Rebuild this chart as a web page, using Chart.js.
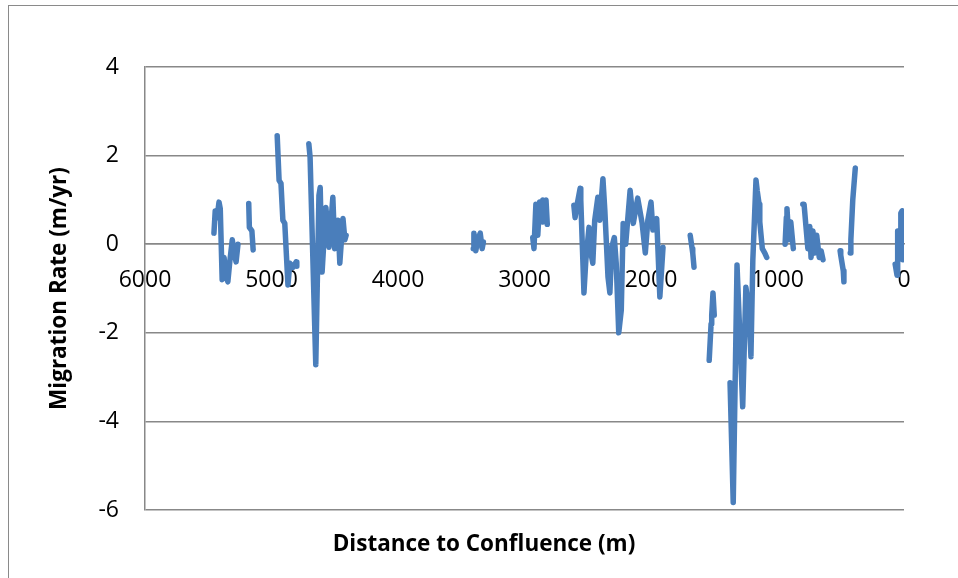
<!DOCTYPE html>
<html lang="en">
<head>
    <meta charset="UTF-8">
    <title>Migration Rate</title>
    <script src="https://cdn.jsdelivr.net/npm/chart.js@4.4.1/dist/chart.umd.min.js"></script>
    <style>
        html, body { margin: 0; padding: 0; background: #fff; overflow: hidden; }
        .frame { position: absolute; left: 8px; top: 5px; width: 1200px; height: 900px; border: 1px solid #8a8a8a; }
        .wrap { position: absolute; left: 0; top: 0; width: 958px; height: 578px; }
    </style>
</head>
<body>
    <div class="frame"></div>
    <div class="wrap"><canvas id="chart" width="958" height="578"></canvas></div>

    <script>
        // distance to confluence (m) and migration rate (m/yr); null = gap in the survey
        const distance = [
            5455, 5445, 5430, 5415, 5405, 5390, 5375, 5360, 5345, 5330, 5310, 5295, 5280, 5265, 5220,
            5180, 5175, 5155, 5145, 5050,
            4955, 4940, 4925, 4910, 4895, 4870, 4855, 4830, 4805, 4800, 4750,
            4705, 4695, 4650, 4625, 4615, 4600, 4570, 4545, 4515, 4500, 4475, 4460, 4435, 4420, 4410, 3900,
            3405, 3400, 3385, 3370, 3350, 3335, 3325, 3100,
            2935, 2925, 2910, 2895, 2880, 2860, 2855, 2840, 2830, 2820, 2700,
            2610, 2600, 2585, 2560, 2555, 2530, 2515, 2490, 2475, 2460, 2445, 2420, 2405, 2380, 2365,
            2340, 2325, 2310, 2290, 2275, 2255, 2235, 2220, 2200, 2165, 2140, 2120, 2105, 2070, 2045,
            2025, 2000, 1985, 1955, 1930, 1905, 1800,
            1690, 1675, 1670, 1660, 1600,
            1540, 1525, 1520, 1510, 1500, 1450,
            1375, 1350, 1320, 1275, 1250, 1225, 1210, 1195, 1170, 1160, 1145, 1140, 1120, 1100, 1085, 1000,
            940, 930, 925, 910, 895, 875, 840,
            800, 790, 775, 760, 745, 735, 720, 705, 690, 670, 655, 640, 570,
            505, 500, 480, 475, 450,
            425, 420, 405, 385, 200,
            70, 55, 50, 30, 25, 15, 10
        ];
        const rate = [
            0.25, 0.75, 0.6, 0.95, 0.8, -0.8, -0.3, -0.7, -0.85, -0.4, 0.1, -0.2, -0.4, 0.0, null,
            0.92, 0.38, 0.3, -0.13, null,
            2.45, 1.44, 1.37, 0.54, 0.47, -0.92, -0.43, -0.52, -0.4, -0.5, null,
            2.27, 1.96, -2.72, 1.1, 1.28, -0.63, 0.83, -0.07, 1.06, -0.1, 0.54, -0.43, 0.58, 0.1, 0.2, null,
            -0.1, 0.25, -0.15, 0.1, 0.25, -0.1, 0.05, null,
            0.15, -0.1, 0.9, 0.2, 0.95, 0.5, 1.0, 0.6, 1.0, 0.45, null,
            0.88, 0.6, 0.88, 1.26, 0.99, -1.1, -0.36, 0.38, -0.2, -0.43, 0.54, 1.06, 0.54, 1.48, 0.77,
            -0.74, -1.1, -0.07, 0.15, -0.43, -2.0, -1.49, 0.47, 0.0, 1.22, 0.47, 0.8, 1.04, 0.47, -0.2,
            0.54, 0.95, 0.32, 0.58, -1.19, -0.07, null,
            0.2, -0.1, -0.2, -0.52, null,
            -2.62, -1.8, -1.6, -1.1, -1.6, null,
            -3.13, -5.83, -0.47, -3.67, -0.97, -1.5, -2.54, -0.36, 1.45, 1.2, 0.9, 0.5, -0.1, -0.2, -0.3, null,
            0.0, 0.6, 0.8, 0.1, 0.5, -0.1, null,
            0.9, 0.9, 0.4, -0.1, 0.4, -0.3, 0.3, -0.2, 0.2, -0.3, -0.15, -0.35, null,
            -0.15, -0.25, -0.6, -0.85, null,
            -0.2, 0.1, 1.0, 1.72, null,
            -0.45, -0.7, 0.3, 0.3, 0.7, 0.75, -0.35
        ];
        const xTicks = [6000, 5000, 4000, 3000, 2000, 1000, 0];
        const yTicks = [4, 2, 0, -2, -4, -6];
        const xTitle = 'Distance to Confluence (m)';
        const yTitle = 'Migration Rate (m/yr)';

        const points = distance.map((d, i) => ({ x: d, y: rate[i] }));
        const gridGray = '#888888';
        const titleFont = { family: 'Open Sans', size: 22.5, weight: 'bold' };
        const tickFont = { family: 'Open Sans', size: 23 };

        // x title sits centred on the whole frame, not on the plot area
        const bottomTitle = {
            id: 'bottomTitle',
            afterDraw(chart) {
                const ctx = chart.ctx;
                ctx.save();
                ctx.font = 'bold 22.5px "Open Sans"';
                ctx.fillStyle = '#000';
                ctx.textAlign = 'center';
                ctx.textBaseline = 'middle';
                ctx.fillText(xTitle, 484, 545);
                ctx.restore();
            }
        };

        new Chart(document.getElementById('chart'), {
            type: 'line',
            data: {
                datasets: [{
                    label: 'Migration Rate',
                    data: points,
                    borderColor: '#4a7ebb',
                    borderWidth: 5.5,
                    borderCapStyle: 'round',
                    borderJoinStyle: 'round',
                    pointRadius: 0,
                    spanGaps: false,
                    tension: 0
                }]
            },
            options: {
                responsive: false,
                animation: false,
                layout: { padding: { left: 8, top: 67, right: 54, bottom: 68 } },
                plugins: {
                    legend: { display: false },
                    tooltip: { enabled: false }
                },
                scales: {
                    x: {
                        type: 'linear',
                        reverse: true,
                        min: 0,
                        max: 6000,
                        position: { y: 0 },
                        afterBuildTicks: s => { s.ticks = xTicks.map(v => ({ value: v })); },
                        grid: { display: false },
                        border: { display: true, color: gridGray, width: 1.5 },
                        ticks: {
                            color: '#000',
                            font: tickFont,
                            padding: 14,
                            maxRotation: 0,
                            autoSkip: false,
                            callback: v => String(v)
                        }
                    },
                    y: {
                        min: -6,
                        max: 4,
                        afterBuildTicks: s => { s.ticks = yTicks.map(v => ({ value: v })); },
                        afterFit: s => { s.width = 137; },
                        grid: { color: gridGray, lineWidth: 1.5, drawTicks: false },
                        border: { display: true, color: gridGray, width: 1.5 },
                        ticks: {
                            color: '#000',
                            font: tickFont,
                            padding: 26,
                            callback: v => String(v)
                        },
                        title: {
                            display: true,
                            text: yTitle,
                            color: '#000',
                            font: titleFont,
                            padding: { top: 38, bottom: 0 }
                        }
                    }
                }
            },
            plugins: [bottomTitle]
        });
    </script>
</body>
</html>
